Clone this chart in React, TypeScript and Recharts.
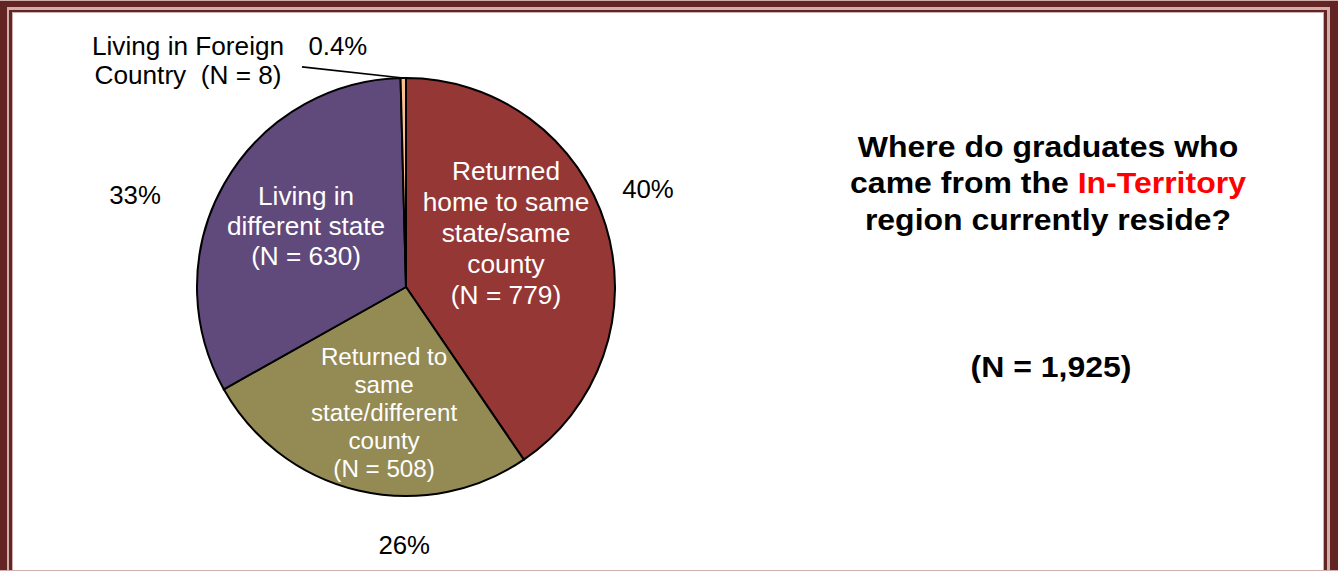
import { Cell, Pie, PieChart } from "recharts";

// data
const categories = [
  "Returned home to same state/same county",
  "Returned to same state/different county",
  "Living in different state",
  "Living in Foreign Country",
];
const counts = [779, 508, 630, 8];
const nameLines = [
  ["Returned", "home to same", "state/same", "county"],
  ["Returned to", "same", "state/different", "county"],
  ["Living in", "different state"],
  ["Living in Foreign", "Country"],
];
const titleLines = ["Where do graduates who", "came from the ", "region currently reside?"];
const regionName = "In-Territory";

const colors = ["#953735", "#948A54", "#604A7B", "#FAC090"];
const FONT = '"Liberation Sans", Arial, Helvetica, sans-serif';
const MAROON = "#632523";
const PINK = "#cfaeac";

const total = counts.reduce((a, b) => a + b, 0);
const tableData = categories.map((c, i) => ({ name: c, value: counts[i] }));

// label placement: [angle in degrees, radius as share of outerRadius]
const labelLayout = [
  { pct: [22.05, 1.249], name: [28.4, 0.544], gap: 30.8, size: 26.3, outside: false },
  { pct: [-90.4, 1.234], name: [-99.9, 0.61], gap: 27.8, size: 24.2, outside: false },
  { pct: [161.25, 1.369], name: [148.6, 0.56], gap: 30.2, size: 26.2, outside: false },
  { pct: [105.8, 1.198], name: [133.9, 1.504], gap: 29, size: 26.2, outside: true },
];

const RAD = Math.PI / 180;
const polar = (cx: number, cy: number, r: number, a: number) => [
  cx + r * Math.cos(-a * RAD),
  cy + r * Math.sin(-a * RAD),
];

const fmtPct = (v: number) => {
  const p = (v / total) * 100;
  return p < 1 ? `${p.toFixed(1)}%` : `${Math.round(p)}%`;
};

function renderLabel(props: any) {
  const { cx, cy, outerRadius, midAngle, index } = props;
  const L = labelLayout[index];
  const [px, py] = polar(cx, cy, outerRadius * L.pct[1], L.pct[0]);
  const [nx, ny] = polar(cx, cy, outerRadius * L.name[1], L.name[0]);
  const nText = `(N = ${counts[index]})`;
  const lines = L.outside
    ? [...nameLines[index].slice(0, -1), `${nameLines[index][nameLines[index].length - 1]}  ${nText}`]
    : [...nameLines[index], nText];
  const top = ny - ((lines.length - 1) * L.gap) / 2;
  let leader = null;
  if (L.outside) {
    const [sx, sy] = polar(cx, cy, outerRadius * 1.165, 115.3);
    const [ex, ey] = polar(cx, cy, outerRadius, midAngle);
    leader = <line x1={sx} y1={sy} x2={ex} y2={ey} stroke="#000" strokeWidth={1.6} />;
  }
  return (
    <g key={`lbl-${index}`}>
      {leader}
      <text
        x={px}
        y={py}
        textAnchor="middle"
        dominantBaseline="central"
        fontFamily={FONT}
        fontSize={25.8}
        fill="#000"
      >
        {fmtPct(counts[index])}
      </text>
      {lines.map((ln, i) => (
        <text
          key={i}
          x={nx}
          y={top + i * L.gap}
          textAnchor="middle"
          dominantBaseline="central"
          fontFamily={FONT}
          fontSize={L.size}
          fill={L.outside ? "#000" : "#fff"}
          style={{ whiteSpace: "pre" }}
        >
          {ln}
        </text>
      ))}
    </g>
  );
}

const box = (extra: any) => ({ position: "absolute" as const, boxSizing: "border-box" as const, ...extra });

export default function App() {
  return (
    <div style={{ position: "absolute", left: 0, top: 0, width: 1338, height: 571, background: "#fff", overflow: "hidden" }}>
      <div style={box({ left: 0, top: 0, width: 1338, height: 1, background: PINK })} />
      <div style={box({ left: 0, top: 1, width: 1338, height: 700, borderStyle: "solid", borderColor: MAROON, borderWidth: "6px 8px 0 7px" })} />
      <div style={box({ left: 7, top: 7, width: 1323, height: 700, borderStyle: "solid", borderColor: PINK, borderWidth: "3px 3px 0 2px" })} />
      <div style={box({ left: 9, top: 10, width: 1318, height: 700, borderStyle: "solid", borderColor: MAROON, borderWidth: "2px 3px 0 3px" })} />
      <div style={box({ left: 12, top: 12, width: 1312, height: 700, borderStyle: "solid", borderColor: PINK, borderWidth: "1px 1px 0 1px" })} />
      <div style={box({ left: 0, top: 570, width: 1338, height: 1, background: PINK })} />

      <div style={{ position: "absolute", left: 0, top: 0 }}>
        <PieChart width={1338} height={571} margin={{ top: 0, right: 0, bottom: 0, left: 0 }}>
          <Pie
            data={tableData}
            dataKey="value"
            nameKey="name"
            cx={406}
            cy={287}
            outerRadius={209}
            startAngle={90}
            endAngle={-270}
            stroke="#000"
            strokeWidth={2}
            label={renderLabel}
            labelLine={false}
            isAnimationActive={false}
          >
            {tableData.map((d, i) => (
              <Cell key={d.name} fill={colors[i]} />
            ))}
          </Pie>
        </PieChart>
      </div>

      <svg width={1338} height={571} style={{ position: "absolute", left: 0, top: 0, pointerEvents: "none" }}>
        <g fontFamily={FONT} fontWeight="bold" fontSize={29.5} textAnchor="middle" fill="#000" transform="translate(1048,0) scale(1.085,1)">
          <text x={0} y={157}>{titleLines[0]}</text>
          <text x={0} y={193.5} style={{ whiteSpace: "pre" }}>
            {titleLines[1]}
            <tspan fill="#ff0000">{regionName}</tspan>
          </text>
          <text x={0} y={230}>{titleLines[2]}</text>
          <text x={3 / 1.085} y={377}>{`(N = ${total.toLocaleString("en-US")})`}</text>
        </g>
      </svg>
    </div>
  );
}
